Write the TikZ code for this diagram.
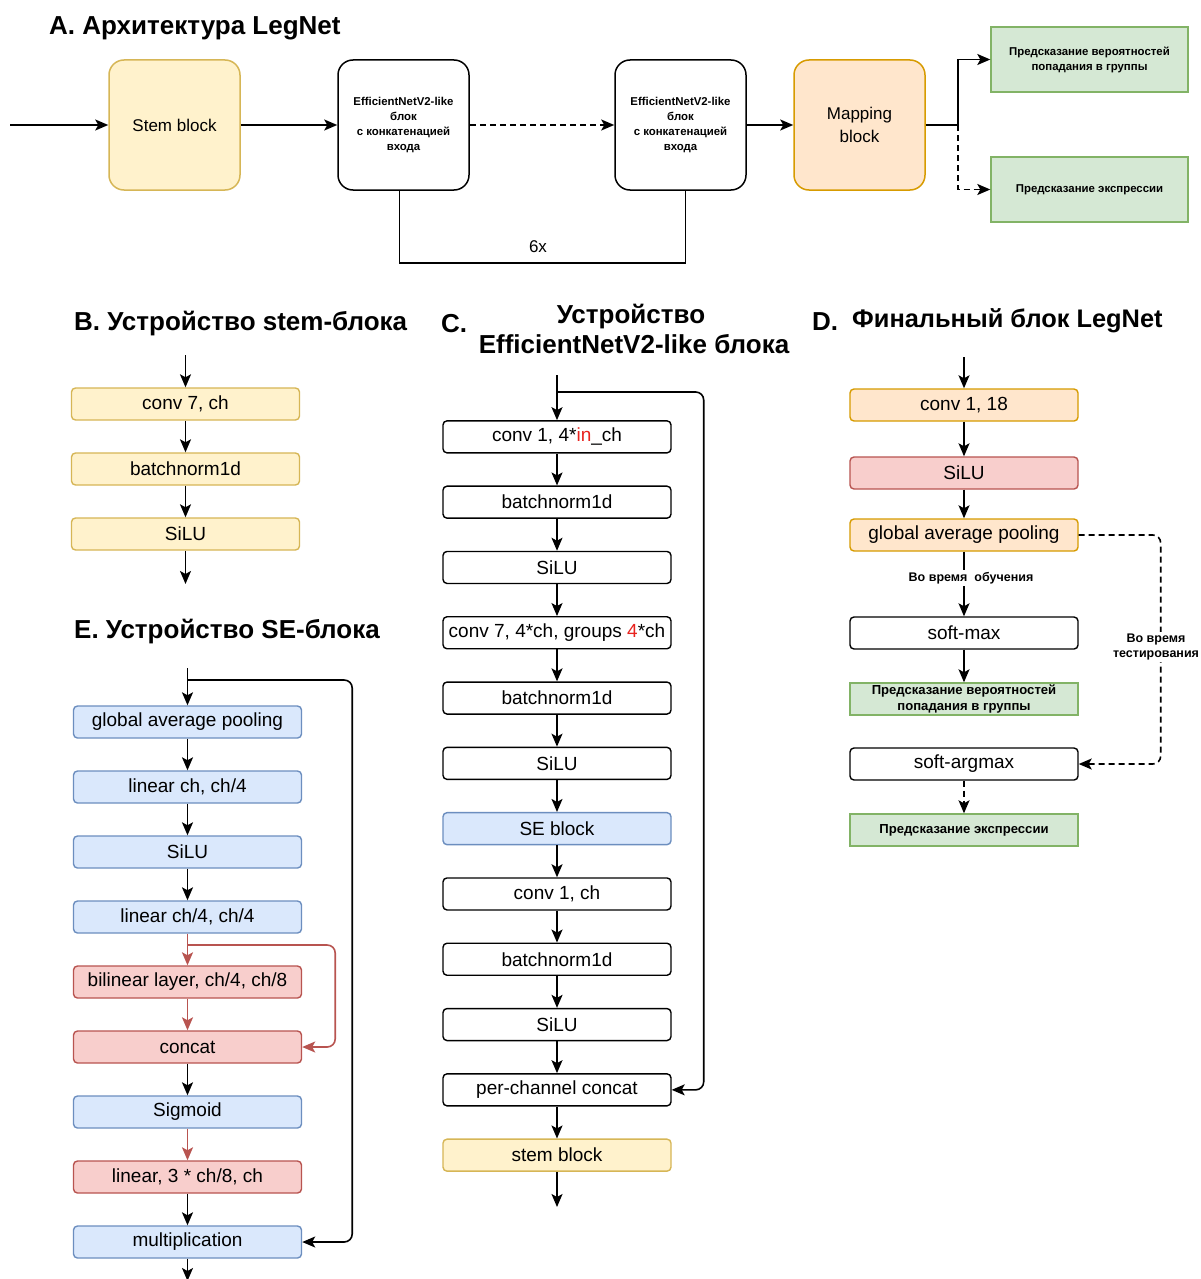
\documentclass[tikz,border=0pt]{standalone}
\usepackage{fontspec}
\setmainfont{Liberation Sans}
\usetikzlibrary{arrows.meta,matrix}
\definecolor{ylwfill}{HTML}{FFF2CC}\definecolor{ylwline}{HTML}{D6B656}
\definecolor{orgfill}{HTML}{FFE6CC}\definecolor{orgline}{HTML}{D79B00}
\definecolor{redfill}{HTML}{F8CECC}\definecolor{redline}{HTML}{B85450}
\definecolor{bluefill}{HTML}{DAE8FC}\definecolor{blueline}{HTML}{6C8EBF}
\definecolor{grnfill}{HTML}{D5E8D4}\definecolor{grnline}{HTML}{82B366}
\definecolor{hilite}{HTML}{E8231E}
\begin{document}
\begin{tikzpicture}[x=1pt,y=-1pt,
  layer/.style={draw, line width=1.4pt, rounded corners=4pt, minimum width=228pt,
    minimum height=32pt, inner sep=0pt, font=\boxfont},
  yellowbox/.style={fill=ylwfill, draw=ylwline},
  orangebox/.style={fill=orgfill, draw=orgline},
  redbox/.style={fill=redfill, draw=redline},
  bluebox/.style={fill=bluefill, draw=blueline},
  greenbox/.style={fill=grnfill, draw=grnline, sharp corners, line width=1.4pt},
  bigblock/.style={draw, line width=1.5pt, rounded corners=15pt, minimum width=131pt,
    minimum height=130pt, inner sep=2pt, align=center},
  outbox/.style={greenbox, minimum width=197pt, minimum height=65pt, inner sep=2pt,
    align=center, font=\smallbold},
  arr/.style={-{Stealth[length=13pt,width=11pt,inset=3pt]}, line width=1.6pt},
  redarr/.style={arr, draw=redline},
  dashline/.style={dash pattern=on 6pt off 4pt},
  title/.style={anchor=base west, font=\titlefont, inner sep=0pt},
  note/.style={font=\notefont, align=center, fill=white, inner sep=2pt}]
    \newcommand{\boxfont}{\fontsize{19}{22}\selectfont}
    \newcommand{\titlefont}{\bfseries\fontsize{26}{31}\selectfont}
    \newcommand{\smallbold}{\bfseries\fontsize{11.4}{15}\selectfont}
    \newcommand{\notefont}{\bfseries\fontsize{12.5}{15.5}\selectfont}
    \newcommand{\greenfont}{\bfseries\fontsize{13.1}{15.5}\selectfont}
\path[use as bounding box, fill=white] (0,0) rectangle (1201,1279);

% A
\node[title] (ttlA) at (49,35) {A.\ Архитектура LegNet};
\coordinate (ain) at (10,125);
\node[bigblock, yellowbox, font=\fontsize{17}{23}\selectfont] (stem) at (174.5,125) {Stem block};
\node[bigblock, font=\smallbold] (eff1) at (403.5,125) {EfficientNetV2-like\\блок\\с конкатенацией\\входа};
\node[bigblock, font=\smallbold] (eff2) at (680.5,125) {EfficientNetV2-like\\блок\\с конкатенацией\\входа};
\node[bigblock, orangebox, font=\fontsize{17}{23}\selectfont] (map) at (859.5,125) {Mapping\\block};
\node[outbox] (pred1) at (1089.5,59.5) {Предсказание вероятностей\\попадания в группы};
\node[outbox] (pred2) at (1089.5,189.5) {Предсказание экспрессии};
\coordinate (split) at (958,125);
\coordinate (loop) at (540,263);
\draw[arr] (ain) -- (stem);
\draw[arr] (stem) -- (eff1);
\draw[arr, dashline] (eff1) -- (eff2);
\draw[arr] (eff2) -- (map);
\draw[arr] (map) -- (split) |- (pred1);
\draw[arr, dashline] (split) |- (pred2);
\draw[line width=1.5pt] ([xshift=-4pt]eff1.south) |- (loop) -| ([xshift=5pt]eff2.south);
\node[font=\fontsize{17}{20}\selectfont] (rep) at (538,247) {6x};

% B
\node[title] (ttlB) at (74,330) {B.\ Устройство stem-блока};
\matrix (b) [matrix of nodes, row sep=31.6pt, nodes={layer, yellowbox}] at (185.5,469) {
  conv 7, ch \\
  batchnorm1d \\
  SiLU \\
};
\coordinate (bin) at (185.5,355);
\coordinate (bout) at (185.5,584);
\draw[arr] (bin) -- (b-1-1);
\draw[arr] (b-1-1) -- (b-2-1);
\draw[arr] (b-2-1) -- (b-3-1);
\draw[arr] (b-3-1) -- (bout);

% C
\node[title] (ttlC) at (441,332) {C.};
\node[title, anchor=base] (ttlC1) at (631,323) {Устройство};
\node[title, anchor=base] (ttlC2) at (634,353) {EfficientNetV2-like блока};
\matrix (c) [matrix of nodes, row sep=31.9pt, nodes={layer}] at (557,796) {
  conv 1, 4*\textcolor{hilite}{in}\_ch \\
  batchnorm1d \\
  SiLU \\
  conv 7, 4*ch, groups \textcolor{hilite}{4}*ch \\
  batchnorm1d \\
  SiLU \\
  |[bluebox]| SE block \\
  conv 1, ch \\
  batchnorm1d \\
  SiLU \\
  per-channel concat \\
  |[yellowbox]| stem block \\
};
\coordinate (cin) at (557,375);
\coordinate (csplit) at (557,392);
\coordinate (cout) at (557,1207);
\draw[arr] (cin) -- (c-1-1);
\foreach \i [count=\j from 2] in {1,...,11}
  \draw[arr] (c-\i-1) -- (c-\j-1);
\draw[arr] (c-12-1) -- (cout);
\draw[arr, rounded corners=8pt] (csplit) -| ([xshift=32pt]c-11-1.east) -- (c-11-1.east);

% D
\node[title] (ttlD) at (812,330) {D.};
\node[title, font=\bfseries\fontsize{25.4}{31}\selectfont] (ttlDtxt) at (852,327) {Финальный блок LegNet};
\node[layer, orangebox] (dconv) at (964,405) {conv 1, 18};
\node[layer, redbox] (dsilu) at (964,473) {SiLU};
\node[layer, orangebox] (gpool) at (964,535) {global average pooling};
\node[layer] (smax) at (964,633) {soft-max};
\node[layer, greenbox, font=\greenfont, align=center] (dprob) at (964,699) {Предсказание вероятностей\\попадания в группы};
\node[layer] (sargmax) at (964,764) {soft-argmax};
\node[layer, greenbox, font=\greenfont] (dexpr) at (964,830) {Предсказание экспрессии};
\coordinate (din) at (964,357);
\draw[arr] (din) -- (dconv);
\draw[arr] (dconv) -- (dsilu);
\draw[arr] (dsilu) -- (gpool);
\draw[arr] (gpool) -- (smax);
\draw[arr] (smax) -- (dprob);
\draw[arr, dashline] (sargmax) -- (dexpr);
\draw[arr, dashline, rounded corners=8pt] (gpool.east) -| ([xshift=82pt]sargmax.east) -- (sargmax.east);
\node[note] (train) at (971,578) {Во время\ \ обучения};
\node[note] (test) at (1156,647) {Во время\\тестирования};

% E
\node[title] (ttlE) at (74,638) {E.\ Устройство SE-блока};
\matrix (e) [matrix of nodes, row sep=31.6pt, nodes={layer, bluebox}] at (187.5,982) {
  global average pooling \\
  linear ch, ch/4 \\
  SiLU \\
  linear ch/4, ch/4 \\
  |[redbox]| bilinear layer, ch/4, ch/8 \\
  |[redbox]| concat \\
  Sigmoid \\
  |[redbox]| linear, 3 * ch/8, ch \\
  multiplication \\
};
\coordinate (ein) at (187.5,668);
\coordinate (esplit) at (187.5,680);
\coordinate (ebranch) at (187.5,945);
\coordinate (eout) at (187.5,1281);
\draw[arr] (ein) -- (e-1-1);
\foreach \i/\j in {1/2,2/3,3/4,6/7,8/9}
  \draw[arr] (e-\i-1) -- (e-\j-1);
\foreach \i/\j in {4/5,5/6,7/8}
  \draw[redarr] (e-\i-1) -- (e-\j-1);
\draw[redarr, rounded corners=8pt] (ebranch) -| ([xshift=33pt]e-6-1.east) -- (e-6-1.east);
\draw[arr, rounded corners=8pt] (esplit) -| ([xshift=50pt]e-9-1.east) -- (e-9-1.east);
\draw[arr] (e-9-1) -- (eout);

\end{tikzpicture}
\end{document}
